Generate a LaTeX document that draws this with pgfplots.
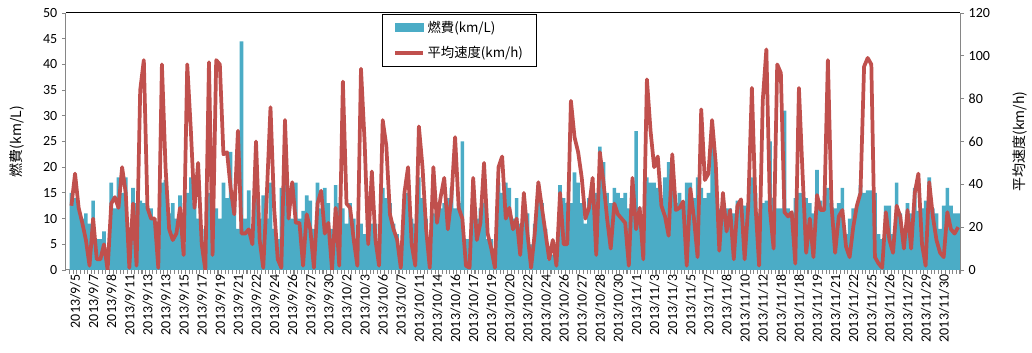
\documentclass[border=0pt]{standalone}
\usepackage{pgfplots}
\pgfplotsset{compat=1.18}
\usepackage{pgfplotstable}
\usepackage{fontspec}
\setmainfont{Carlito}
\newfontfamily\jp{Noto Sans CJK JP}
\definecolor{barblue}{HTML}{4BACC6}
\definecolor{linered}{HTML}{C0504D}
\definecolor{axgray}{HTML}{868686}

% one row per trip: index, fuel economy (km/L), average speed (km/h)
\pgfplotstableread{
c fuel speed
0 15 30
1 14 45
2 12 29
3 10 22
4 11 14
5 9 2
6 13.5 24
7 6 5
8 6 5
9 7.5 12
10 0 0
11 17 31
12 12 34
13 18 29
14 15 48
15 18 36
16 8 1
17 16 31
18 13 2
19 13.5 84
20 13 98
21 12.5 29
22 12 24
23 10 24
24 7 1
25 17 96
26 17.5 48
27 11 19
28 13 14
29 10 17
30 14.5 29
31 5 7
32 15 96
33 18 65
34 13 29
35 10 50
36 8 12
37 5 0
38 15 97
39 12 7
40 12 98
41 10 96
42 17 54
43 14 55
44 23 38
45 14.5 26
46 8 65
47 44.5 17
48 10 17
49 15.5 19
50 8 12
51 14 60
52 10 14
53 14.5 1
54 10 36
55 17 76
56 8 29
57 6 5
58 16 1
59 20 70
60 15.5 24
61 10 41
62 17 22
63 10 22
64 11.5 2
65 14.5 26
66 13.5 19
67 8 1
68 17 31
69 12 37
70 16 17
71 13 22
72 8 0
73 16.5 29
74 13 2
75 12 88
76 9 31
77 13 29
78 10 14
79 6 2
80 9 94
81 7 60
82 6 12
83 9 46
84 9 14
85 4 2
86 16 70
87 14 58
88 13 26
89 9 19
90 7 14
91 3 1
92 14 36
93 15 48
94 10 12
95 9 2
96 18 67
97 14 48
98 10 19
99 2 1
100 11 48
101 10 22
102 12 34
103 13 43
104 14 19
105 16 34
106 12 62
107 13 29
108 25 24
109 6 2
110 6 1
111 16 43
112 10 14
113 12 22
114 13 50
115 6 17
116 6 10
117 4 1
118 17 48
119 15 53
120 17 24
121 16 29
122 10 19
123 14 24
124 9 7
125 14 36
126 11 17
127 5 1
128 9 17
129 16.5 41
130 13 29
131 8 17
132 2 5
133 3 14
134 2 2
135 16.5 36
136 14 12
137 13 12
138 13 79
139 19 62
140 17 55
141 13 43
142 9 24
143 14 29
144 16 43
145 15 7
146 24 55
147 21 41
148 15 24
149 13 10
150 16 31
151 15 26
152 14 24
153 15 22
154 12 2
155 11 43
156 27 19
157 12 29
158 10 5
159 18 89
160 17 65
161 17 48
162 16 53
163 14 30
164 18 25
165 21 16
166 19 54
167 13 28
168 15 29
169 13 32
170 17 2
171 17 38
172 14 24
173 18 6
174 16 75
175 14 42
176 15 45
177 28.5 70
178 20 50
179 12 9
180 11 36
181 12 18
182 12 28
183 11 5
184 13.5 30
185 13 33
186 12.5 5
187 13 30
188 18 85
189 15 30
190 11 2
191 13 79
192 13.5 103
193 25 28
194 14 10
195 12 96
196 12 92
197 31 27
198 12 25
199 11 27
200 14 3
201 15 85
202 15 45
203 14 8
204 13 24
205 11 6
206 19.5 35
207 13.5 28
208 12 28
209 16 98
210 13 30
211 12 8
212 13 25
213 16 28
214 7 11
215 10 6
216 12 20
217 12.5 30
218 16.5 36
219 15 95
220 15.5 99
221 15.5 96
222 15 6
223 7 3
224 6 1
225 12.5 27
226 12.5 14
227 7 8
228 17 30
229 11 25
230 7 10
231 13 28
232 11 10
233 16 36
234 11.5 45
235 12 12
236 13.5 2
237 18 41
238 12 25
239 11 14
240 8 8
241 12.5 6
242 16 27
243 12.5 19
244 11 17
245 11 20
}\trips

\pgfplotsset{
  common/.style={
    scale only axis, width=670.5pt, height=192.75pt,
    xmin=-1.5, xmax=245.5,
    axis line style={axgray, line width=0.75pt},
    tick align=outside,
    major tick length=3pt,
    tick label style={font=\fontsize{10.5}{12}\selectfont},
    /pgf/number format/assume math mode=true,
  }
}

\begin{document}
\begin{tikzpicture}
\begin{axis}[
  common, name=ax1,
  ymin=0, ymax=50,
  axis x line*=bottom, axis y line*=left,
  ytick={0,5,...,50},
  ytick style={axgray, line width=0.6pt},
  % a short tick at every trip boundary, labels only on every fifth trip
  xtick={-0.5,0.5,...,245.5},
  xticklabel={\empty},
  xtick style={axgray, line width=0.8pt},
  extra x ticks={0,5,...,240},
  extra x tick labels={2013/9/5,2013/9/7,2013/9/8,2013/9/11,2013/9/13,2013/9/13,2013/9/15,2013/9/17,2013/9/19,2013/9/21,2013/9/22,2013/9/24,2013/9/26,2013/9/27,2013/9/30,2013/10/2,2013/10/3,2013/10/6,2013/10/7,2013/10/11,2013/10/14,2013/10/16,2013/10/17,2013/10/19,2013/10/20,2013/10/22,2013/10/24,2013/10/26,2013/10/27,2013/10/28,2013/10/30,2013/11/1,2013/11/3,2013/11/3,2013/11/5,2013/11/7,2013/11/8,2013/11/10,2013/11/12,2013/11/18,2013/11/18,2013/11/19,2013/11/21,2013/11/22,2013/11/25,2013/11/26,2013/11/27,2013/11/29,2013/11/30},
  extra x tick style={major tick length=0pt, xticklabel style={rotate=90, anchor=east, yshift=-3pt}},
  ylabel={\jp 燃費(km/L)},
  ylabel style={at={(axis description cs:-0.055,0.5)}, anchor=center, font=\jp\fontsize{10.5}{12}\selectfont},
]
\addplot[ybar, bar width=1, fill=barblue, draw=none] table[x=c, y=fuel] {\trips};
\draw[black, line width=0.75pt] (rel axis cs:0,1) -- (rel axis cs:1,1);
\end{axis}

\begin{axis}[
  common,
  ymin=0, ymax=120,
  axis y line*=right, axis x line=none,
  ytick={0,20,...,120},
  ytick style={axgray, line width=0.6pt},
  ylabel={\jp 平均速度(km/h)},
  ylabel style={at={(axis description cs:1.067,0.5)}, anchor=center, font=\jp\fontsize{10.5}{12}\selectfont},
  legend cell align=left,
  legend style={at={(axis description cs:0.3535,0.996)}, anchor=north west,
    draw=black, line width=0.75pt, fill=white,
    inner xsep=8pt, inner ysep=3pt, row sep=5pt,
    nodes={inner sep=2pt, font=\jp\fontsize{10}{12}\selectfont}},
]
\addlegendimage{legend image code/.code={\fill[barblue] (0pt,-3pt) rectangle (21pt,3pt);}}
\addlegendentry{燃費(km/L)}
\addplot[linered, line width=2.8pt, line join=round,
  legend image code/.code={\draw[linered, line width=2.8pt] (0pt,0pt) -- (21pt,0pt);}]
  table[x=c, y=speed] {\trips};
\addlegendentry{平均速度(km/h)}
\end{axis}

\pgfresetboundingbox
\path ([xshift=-49.5pt, yshift=-62.25pt]ax1.south west) rectangle ([xshift=54pt, yshift=9.75pt]ax1.north east);
\end{tikzpicture}
\end{document}
